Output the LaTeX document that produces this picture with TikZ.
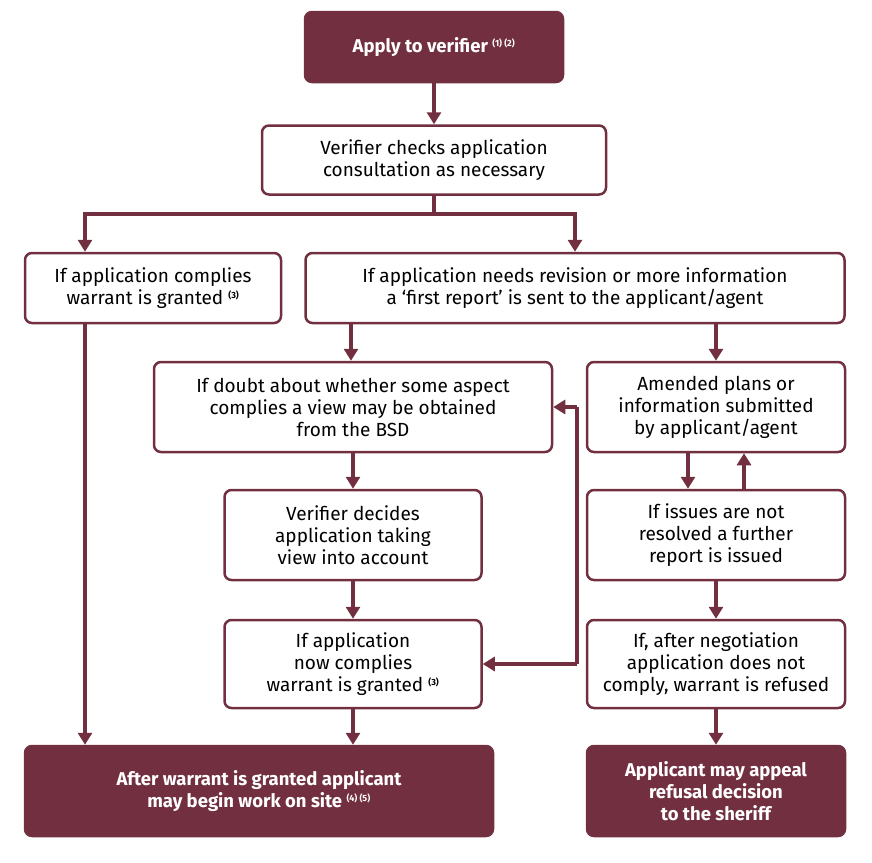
\documentclass[tikz,border=0pt]{standalone}
\usepackage{fontspec}
\setmainfont{Fira Sans}
\usetikzlibrary{arrows.meta}
\definecolor{maroon}{HTML}{722F40}
\newcommand{\fn}[1]{\textsuperscript{\fontsize{9}{9}\selectfont\bfseries #1}}
\begin{document}
\begin{tikzpicture}[x=1pt,y=-1pt,
  box/.style={draw=maroon,line width=2.5pt,rounded corners=7pt,align=center,inner sep=0pt,font=\fontsize{19}{22}\selectfont,text=black},
  fbox/.style={box,fill=maroon,text=white,font=\fontsize{18.5}{22}\selectfont\bfseries},
  arr/.style={draw=maroon,line width=4pt,-{Triangle[length=12pt,width=14pt]}},
  ln/.style={draw=maroon,line width=4pt}]
\useasboundingbox (0,0) rectangle (872,862);
\newcommand{\bx}[6]{\node[#1,minimum width=#4,minimum height=#5] (#2) at #3 {#6};}
\bx{fbox}{apply}{(434,47)}{258}{70}{Apply to verifier \fn{(1) (2)}}
\bx{box}{check}{(434,160)}{344}{69}{Verifier checks application\\consultation as necessary}
\bx{box}{comp}{(153,288)}{256}{70}{If application complies\\warrant is granted \fn{(3)}}
\bx{box}{rev}{(575,288)}{539}{70}{If application needs revision or more information\\a ‘first report’ is sent to the applicant/agent}
\bx{box}{doubt}{(353,407)}{398}{90}{If doubt about whether some aspect\\complies a view may be obtained\\from the BSD}
\bx{box}{amend}{(716,407)}{258}{90}{Amended plans or\\information submitted\\by applicant/agent}
\bx{box}{decide}{(353,535)}{257}{90}{Verifier decides\\application taking\\view into account}
\bx{box}{issue}{(716,535)}{258}{90}{If issues are not\\resolved a further\\report is issued}
\bx{box}{now}{(353,664)}{257}{88}{If application\\now complies\\warrant is granted \fn{(3)}}
\bx{box}{neg}{(716,664)}{258}{88}{If, after negotiation\\application does not\\comply, warrant is refused}
\bx{fbox}{after}{(259,791)}{468}{90}{After warrant is granted applicant\\may begin work on site \fn{(4) (5)}}
\bx{fbox}{appeal}{(716,791)}{258}{90}{Applicant may appeal\\refusal decision\\to the sheriff}
\coordinate (s) at (434,214);
\draw[arr] (apply) -- (check);
\draw[ln] (check) -- (s);
\draw[arr] (s) -| (comp.north -| 85,0);
\draw[arr] (s) -| (rev.north -| 575,0);
\draw[arr] (comp.south -| 85,0) -- (after.north -| 85,0);
\draw[arr] (rev.south -| 351,0) -- (doubt.north -| 351,0);
\draw[arr] (rev.south -| 716,0) -- (amend.north -| 716,0);
\draw[arr] (amend.south -| 688,0) -- (issue.north -| 688,0);
\draw[arr] (issue.north -| 744,0) -- (amend.south -| 744,0);
\draw[arr] (issue) -- (neg);
\draw[arr] (neg) -- (appeal);
\draw[arr] (doubt) -- (decide);
\draw[arr] (decide) -- (now);
\draw[arr] (now.south) -- (now.south |- after.north);
\coordinate (v1) at (577,407);
\coordinate (v2) at (577,664);
\draw[arr] (v1) -- (doubt.east);
\draw[ln] (v1) -- (v2);
\draw[arr] (v2) -- (now.east);
\end{tikzpicture}
\end{document}
